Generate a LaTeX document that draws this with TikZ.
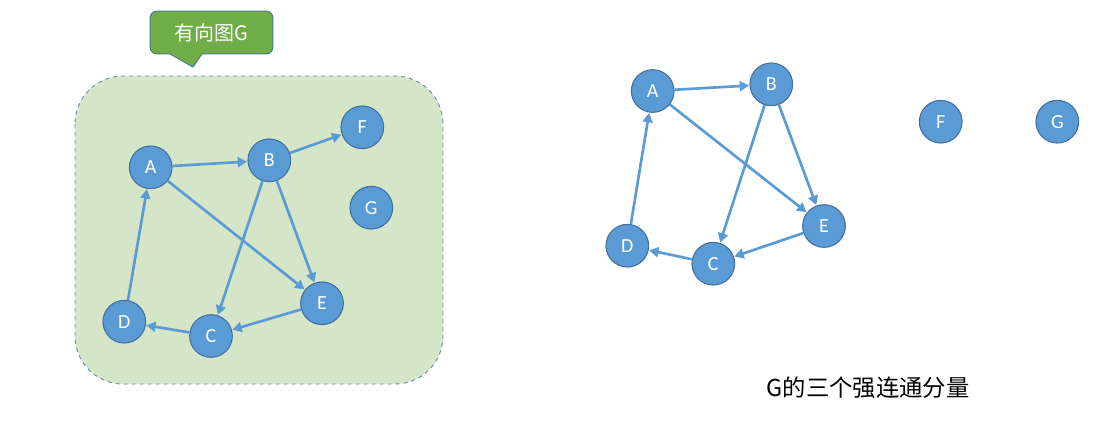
\documentclass[tikz,border=0pt]{standalone}
\usepackage{fontspec}
\setmainfont{Carlito}
\newfontfamily\cjk{Noto Sans CJK SC}
\usetikzlibrary{arrows.meta}
\definecolor{vfill}{HTML}{5B9BD5}
\definecolor{vline}{HTML}{41719C}
\definecolor{panel}{RGB}{213,230,200}
\definecolor{tagfill}{HTML}{70AD47}
\definecolor{tagline}{HTML}{4E7C8E}
\tikzset{
  vertex/.style={circle, fill=vfill, draw=vline, line width=0.8pt,
    minimum size=32pt, inner sep=0pt, text=white, font=\fontsize{15pt}{15pt}\selectfont},
  arc/.style={draw=vfill, line width=2pt,
    -{Triangle[length=7pt,width=7.5pt]}, shorten >=0.3pt}
}
\begin{document}
\begin{tikzpicture}[x=0.75pt, y=-0.75pt]
\useasboundingbox (0,0) rectangle (1114,429);

% shaded panel around the directed graph
\draw[fill=panel, draw=vline!80, dashed, line width=0.7pt, rounded corners=36]
  (75,76) rectangle (443,384);

% callout label
\node[fill=tagfill, draw=tagline, line width=0.8pt, rounded corners=5pt,
      minimum width=92pt, minimum height=32pt, inner sep=0pt, text=white,
      font=\cjk\fontsize{15pt}{15pt}\selectfont] (tag) at (211.5,32.5) {有向图G};
\fill[tagfill] (170,53.2) -- (193,67) -- (202,53.2) -- (202,52) -- (170,52) -- cycle;
\coordinate (tl) at (170,54);
\coordinate (tip) at (193,67);
\coordinate (tr) at (202,54);
\draw[tagline, line width=0.8pt, line join=round] (tl) -- (tip) -- (tr);

% directed graph G
\node[vertex] (A) at (150.7,167.3) {A};
\node[vertex] (B) at (269.3,160.3) {B};
\node[vertex] (F) at (362.3,127.3) {F};
\node[vertex] (G) at (371.3,207.7) {G};
\node[vertex] (E) at (322,303.3) {E};
\node[vertex] (D) at (124.3,321.7) {D};
\node[vertex] (C) at (211,336) {C};

\draw[arc] (A) -- (B);
\draw[arc] (B) -- (F);
\draw[arc] (A) -- (E);
\draw[arc] (B) -- (C);
\draw[arc] (B) -- (E);
\draw[arc] (E) -- (C);
\draw[arc] (C) -- (D);
\draw[arc] (D) -- (A);

% its strongly connected components
\node[vertex] (A2) at (652.7,91) {A};
\node[vertex] (B2) at (771.3,84.3) {B};
\node[vertex] (E2) at (824,226) {E};
\node[vertex] (C2) at (713.3,263.7) {C};
\node[vertex] (D2) at (627.3,245.7) {D};
\node[vertex] (F2) at (940.7,121.7) {F};
\node[vertex] (G2) at (1057.3,121.7) {G};

\draw[arc] (A2) -- (B2);
\draw[arc] (A2) -- (E2);
\draw[arc] (B2) -- (C2);
\draw[arc] (B2) -- (E2);
\draw[arc] (E2) -- (C2);
\draw[arc] (C2) -- (D2);
\draw[arc] (D2) -- (A2);

\node[font=\cjk\fontsize{17.5pt}{17.5pt}\selectfont, text=black] (cap) at (868,388) {G的三个强连通分量};
\end{tikzpicture}
\end{document}
